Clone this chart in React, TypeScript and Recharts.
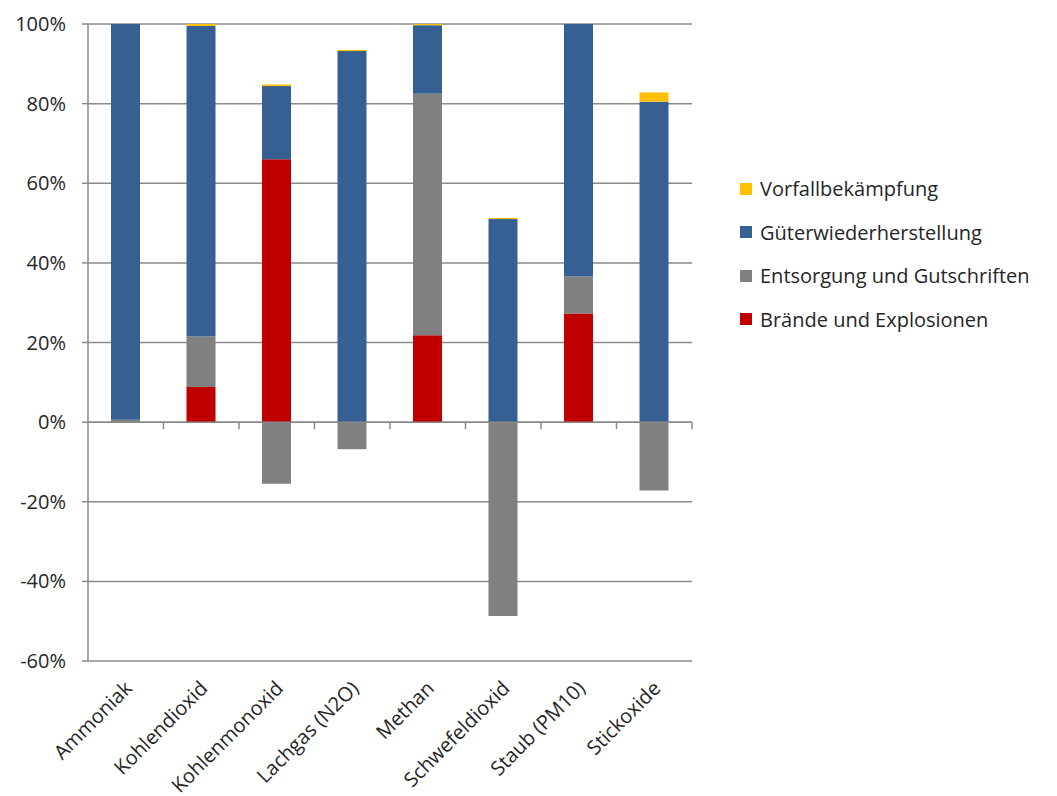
import React from 'react';
import { BarChart, Bar, XAxis, YAxis, CartesianGrid, ReferenceLine } from 'recharts';

const categories = ['Ammoniak', 'Kohlendioxid', 'Kohlenmonoxid', 'Lachgas (N2O)', 'Methan', 'Schwefeldioxid', 'Staub (PM10)', 'Stickoxide'];

// values in percent, stacked from bottom to top
const braende = [0, 8.8, 66, 0, 21.8, 0, 27.3, 0];
const entsorgung = [0.6, 12.7, -15.5, -6.8, 60.7, -48.7, 9.3, -17.2];
const gueter = [99.4, 78, 18.4, 93.2, 17.2, 51, 63.4, 80.5];
const vorfall = [0, 0.5, 0.4, 0.3, 0.3, 0.3, 0, 2.3];

const yTicks = [-60, -40, -20, 0, 20, 40, 60, 80, 100];

const series = [
    { key: 'vorfall', name: 'Vorfallbekämpfung', color: '#FFC000' },
    { key: 'gueter', name: 'Güterwiederherstellung', color: '#376092' },
    { key: 'entsorgung', name: 'Entsorgung und Gutschriften', color: '#808080' },
    { key: 'braende', name: 'Brände und Explosionen', color: '#C00000' },
];

const data = categories.map((name, i) => ({
    name,
    braende: braende[i],
    entsorgung: entsorgung[i],
    gueter: gueter[i],
    vorfall: vorfall[i],
}));

const FONT = '"Open Sans", Lato, sans-serif';

const CatTick = (props: any) => {
    const { x, y, payload } = props;
    return (
        <text
            transform={`translate(${x - 3},${y + 10}) rotate(-45)`}
            textAnchor="end"
            dy="0.75em"
            fontSize={20}
            fontFamily={FONT}
            fill="#262626"
        >
            {payload.value}
        </text>
    );
};

// zero line with Excel-style tick marks between categories
const ZeroAxis = (props: any) => {
    const { x1, y1, x2, y2 } = props;
    const n = categories.length;
    const step = (x2 - x1) / n;
    const marks = [];
    for (let i = 1; i <= n; i++) {
        const tx = x1 + step * i;
        marks.push(<line key={i} x1={tx} y1={y1} x2={tx} y2={y1 + 7} stroke="#8a8a8a" strokeWidth={1.5} />);
    }
    return (
        <g>
            <line x1={x1} y1={y1} x2={x2} y2={y2} stroke="#8a8a8a" strokeWidth={1.5} />
            {marks}
        </g>
    );
};

const App: React.FC = () => {
    return (
        <div style={{ position: 'relative', width: 1041, height: 788, fontFamily: FONT }}>
            <BarChart
                width={1041}
                height={788}
                data={data}
                stackOffset="sign"
                barSize={29}
                margin={{ top: 16, right: 357, bottom: 15, left: 18 }}
            >
                <CartesianGrid vertical={false} stroke="#8a8a8a" strokeWidth={1.5} />
                <XAxis
                    dataKey="name"
                    axisLine={false}
                    tickLine={false}
                    height={120}
                    interval={0}
                    tick={<CatTick />}
                />
                <YAxis
                    domain={[-60, 100]}
                    ticks={yTicks}
                    interval={0}
                    width={62}
                    tickFormatter={(v: number) => `${v}%`}
                    axisLine={{ stroke: '#8a8a8a', strokeWidth: 1.5 }}
                    tickLine={{ stroke: '#8a8a8a', strokeWidth: 1.5 }}
                    tickSize={6}
                    tickMargin={16}
                    tick={{ fontSize: 20, fontFamily: FONT, fill: '#262626' }}
                />
                <Bar dataKey="braende" name="Brände und Explosionen" stackId="a" fill="#C00000" isAnimationActive={false} />
                <Bar dataKey="entsorgung" name="Entsorgung und Gutschriften" stackId="a" fill="#808080" isAnimationActive={false} />
                <Bar dataKey="gueter" name="Güterwiederherstellung" stackId="a" fill="#376092" isAnimationActive={false} />
                <Bar dataKey="vorfall" name="Vorfallbekämpfung" stackId="a" fill="#FFC000" isAnimationActive={false} />
                <ReferenceLine y={0} shape={<ZeroAxis />} />
            </BarChart>
            <div style={{ position: 'absolute', left: 732, top: 159 }}>
                {series.map((s) => (
                    <div key={s.key} style={{ display: 'flex', alignItems: 'center', height: 43.5 }}>
                        <span style={{ display: 'inline-block', width: 12, height: 12, background: s.color, marginRight: 8 }} />
                        <span style={{ fontSize: 20, color: '#262626', whiteSpace: 'nowrap' }}>{s.name}</span>
                    </div>
                ))}
            </div>
        </div>
    );
};

export default App;
